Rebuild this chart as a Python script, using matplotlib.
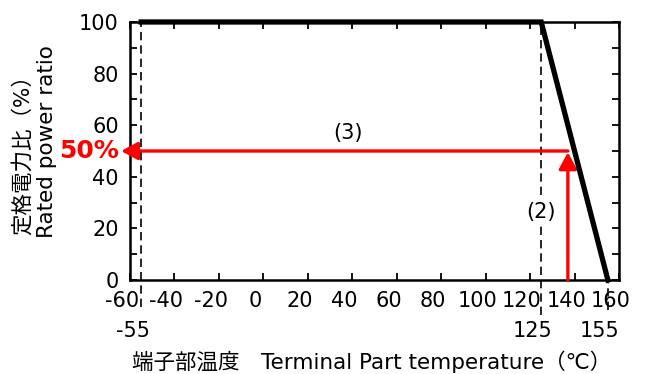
import matplotlib
matplotlib.use("Agg")
import matplotlib.pyplot as plt
from matplotlib.ticker import MultipleLocator
from matplotlib.transforms import ScaledTranslation

plt.rcParams['font.family'] = ['DejaVu Sans', 'Noto Sans CJK JP']
plt.rcParams['axes.unicode_minus'] = False

# derating curve
curve_x = [-55, 125, 155]
curve_y = [100, 100, 0]

# guide lines (x position, lower end below the axis)
guide_x = [-55, 125, 155]
guide_top = [100, 100, 0]
guide_bottom = [-10.5, -13.5, -11.5]
extra_labels = ['-55', '125', '155']

# example operating point
op_x = 137
op_y = 50
arrow_left_x = -64

fig = plt.figure(figsize=(6.45, 3.74), dpi=100)
ax = fig.add_axes([130 / 645, 1 - 280 / 374, 489 / 645, 258 / 374])

ax.set_xlim(-60, 160)
ax.set_ylim(0, 100)

for gx, gt, gb in zip(guide_x, guide_top, guide_bottom):
    ax.vlines(gx, gb, gt, color='black', lw=1.2, linestyles=(0, (5, 3)),
              clip_on=False, zorder=2)

ax.plot(curve_x, curve_y, color='black', lw=3.8, solid_joinstyle='miter',
        zorder=4, clip_on=False)

arrow_style = '-|>,head_length=0.5,head_width=0.27'
ax.annotate('', xy=(arrow_left_x, op_y), xytext=(op_x, op_y),
            arrowprops=dict(arrowstyle=arrow_style, color='red', lw=2.4,
                            mutation_scale=20, shrinkA=0, shrinkB=0),
            annotation_clip=False, zorder=3)
ax.annotate('', xy=(op_x, op_y - 0.5), xytext=(op_x, 0),
            arrowprops=dict(arrowstyle=arrow_style, color='red', lw=2.4,
                            mutation_scale=20, shrinkA=0, shrinkB=0),
            annotation_clip=False, zorder=3)

ax.text(38, 57, '(3)', fontsize=15, ha='center', va='center')
ax.text(125, 26.5, '(2)', fontsize=15, ha='center', va='center',
        bbox=dict(fc='white', ec='none', pad=1))
ax.annotate('50%', xy=(-60, op_y), xytext=(-8, 0), textcoords='offset points',
            ha='right', va='center', color='red', fontsize=18,
            fontweight='bold', annotation_clip=False)

for gx, lab in zip(guide_x, extra_labels):
    ax.annotate(lab, xy=(gx, -0.198), xycoords=('data', 'axes fraction'),
                xytext=(-6, 0), textcoords='offset points',
                ha='center', va='center', fontsize=15, annotation_clip=False)

ax.xaxis.set_major_locator(MultipleLocator(20))
ax.yaxis.set_major_locator(MultipleLocator(20))
ax.yaxis.set_minor_locator(MultipleLocator(10))
ax.tick_params(which='both', direction='in', top=True, right=True,
               width=1.3, labelsize=15)
ax.tick_params(which='major', length=5)
ax.tick_params(which='minor', length=5)
ax.tick_params(axis='x', pad=8)
ax.tick_params(axis='y', pad=8)
for sp in ax.spines.values():
    sp.set_linewidth(1.8)

# x tick labels sit a little left of their ticks in the original
shift = ScaledTranslation(-6 / 72, 0, fig.dpi_scale_trans)
for lbl in ax.get_xticklabels():
    lbl.set_transform(lbl.get_transform() + shift)

fig.text(22 / 645, 1 - 150 / 374, '定格電力比（%）', rotation=90,
         ha='center', va='center', fontsize=15.5)
fig.text(47 / 645, 1 - 142 / 374, 'Rated power ratio', rotation=90,
         ha='center', va='center', fontsize=15.5)
fig.text(372 / 645, 1 - 362 / 374, '端子部温度　Terminal Part temperature（℃）',
         ha='center', va='center', fontsize=15.5)

fig.savefig('out.png', dpi=100)
